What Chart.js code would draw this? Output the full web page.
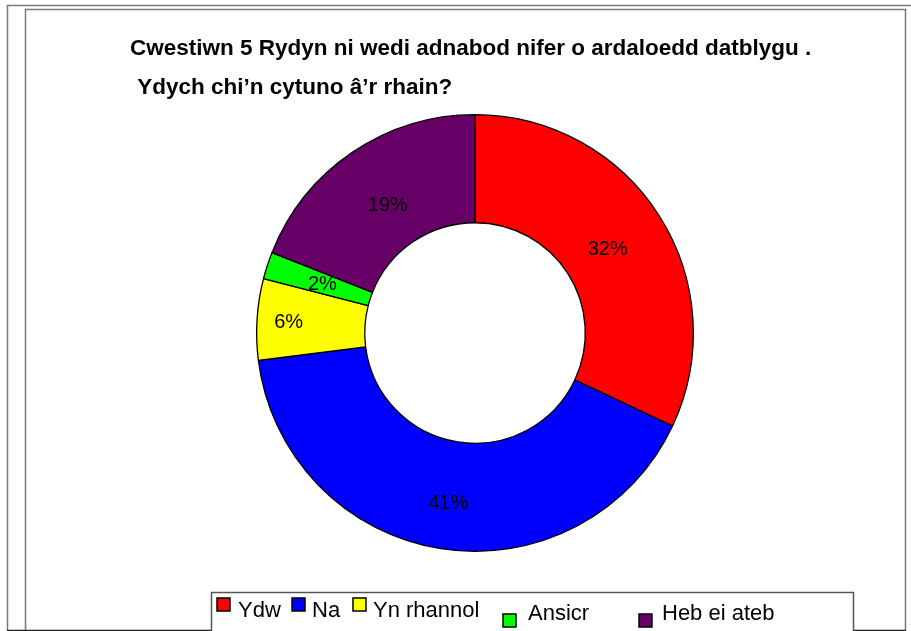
<!DOCTYPE html>
<html>
<head>
<meta charset="utf-8">
<script src="https://cdn.jsdelivr.net/npm/chart.js@4"></script>
<style>
html,body{margin:0;padding:0;background:#fff;}
canvas{display:block;}
</style>
</head>
<body>
<canvas id="c" width="911" height="631"></canvas>
<script>
const titleLines = ["Cwestiwn 5 Rydyn ni wedi adnabod nifer o ardaloedd datblygu .", " Ydych chi\u2019n cytuno \u00e2\u2019r rhain?"];
const categories = ["Ydw", "Na", "Yn rhannol", "Ansicr", "Heb ei ateb"];
const percentages = [32, 41, 6, 2, 19];
const colours = ["#FF0000", "#0000FF", "#FFFF00", "#00FF00", "#660066"];

const FONT = "'Liberation Sans', Arial, sans-serif";

const decorPlugin = {
  id: 'decor',
  beforeDraw(chart) {
    const ctx = chart.ctx;
    ctx.save();
    ctx.fillStyle = '#fff';
    ctx.fillRect(0, 0, chart.width, chart.height);
    // frames
    ctx.strokeStyle = '#7a7a7a';
    ctx.lineWidth = 1.5;
    ctx.beginPath();
    ctx.moveTo(7.5, 640); ctx.lineTo(7.5, 5.5); ctx.lineTo(911, 5.5);
    ctx.stroke();
    ctx.beginPath();
    ctx.moveTo(25.5, 640); ctx.lineTo(25.5, 9.5); ctx.lineTo(905.5, 9.5); ctx.lineTo(905.5, 630.5);
    ctx.stroke();
    ctx.strokeStyle = '#222';
    ctx.lineWidth = 1.5;
    ctx.beginPath();
    ctx.moveTo(7, 630.5); ctx.lineTo(211.5, 630.5);
    ctx.moveTo(853.5, 630.5); ctx.lineTo(906, 630.5);
    ctx.stroke();
    // legend box
    ctx.strokeStyle = '#555';
    ctx.beginPath();
    ctx.moveTo(211.5, 640); ctx.lineTo(211.5, 592.5); ctx.lineTo(853.5, 592.5); ctx.lineTo(853.5, 640);
    ctx.stroke();
    // title
    ctx.fillStyle = '#000';
    ctx.font = "bold 22.5px " + FONT;
    ctx.textBaseline = 'middle';
    ctx.textAlign = 'left';
    ctx.fillText(titleLines[0], 130, 49);
    ctx.fillText(titleLines[1], 131, 88);
    ctx.restore();
  },
  afterDraw(chart) {
    const ctx = chart.ctx;
    ctx.save();
    // data labels
    const meta = chart.getDatasetMeta(0);
    ctx.font = "20px " + FONT;
    ctx.fillStyle = '#000';
    ctx.textAlign = 'center';
    ctx.textBaseline = 'middle';
    const labelR = [0.72, 0.785, 0.855, 0.735, 0.71];
    meta.data.forEach((arc, i) => {
      const p = arc.getProps(['x','y','startAngle','endAngle','innerRadius','outerRadius'], true);
      const mid = (p.startAngle + p.endAngle) / 2;
      const r = p.outerRadius * labelR[i];
      ctx.fillText(chart.data.datasets[0].data[i] + '%', p.x + Math.cos(mid) * r, p.y + Math.sin(mid) * r + 1);
    });
    // legend
    const boxes = [[217, 598], [292, 598], [353, 598], [503, 614], [639, 614]];
    const texts = [[238, 617], [312, 617], [373, 617], [528, 620], [662, 620]];
    ctx.font = "22px " + FONT;
    ctx.textAlign = 'left';
    ctx.textBaseline = 'alphabetic';
    chart.data.labels.forEach((lab, i) => {
      ctx.fillStyle = chart.data.datasets[0].backgroundColor[i];
      ctx.fillRect(boxes[i][0], boxes[i][1], 13, 13);
      ctx.strokeStyle = '#000';
      ctx.lineWidth = 1.5;
      ctx.strokeRect(boxes[i][0], boxes[i][1], 13, 13);
      ctx.fillStyle = '#000';
      ctx.fillText(lab, texts[i][0], texts[i][1]);
    });
    ctx.restore();
  }
};

new Chart(document.getElementById('c'), {
  type: 'doughnut',
  data: {
    labels: categories,
    datasets: [{
      data: percentages,
      backgroundColor: colours,
      borderColor: '#000',
      borderWidth: 1.3
    }]
  },
  options: {
    responsive: false,
    animation: false,
    cutout: '50.5%',
    layout: { padding: { left: 256, right: 217, top: 114, bottom: 79 } },
    plugins: { legend: { display: false }, title: { display: false }, tooltip: { enabled: false } }
  },
  plugins: [decorPlugin]
});
</script>
</body>
</html>
